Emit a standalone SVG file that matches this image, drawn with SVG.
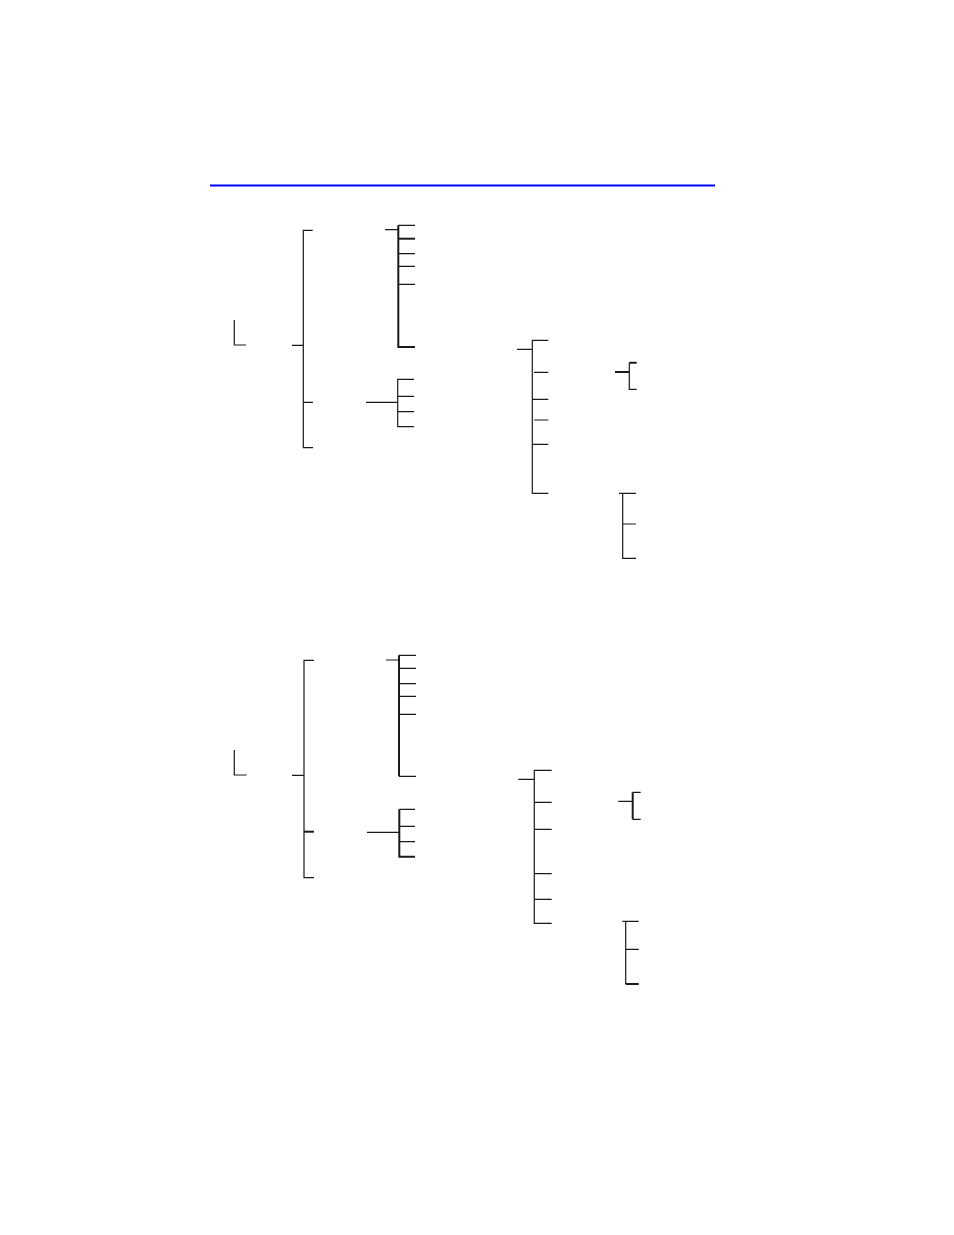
<svg xmlns="http://www.w3.org/2000/svg" width="954" height="1235" viewBox="0 0 954 1235">
<style>
.l{stroke:#1a1a1a;stroke-width:1.2;fill:none;stroke-linecap:butt}
.t{stroke:#1a1a1a;stroke-width:2;fill:none}
</style>
<rect width="954" height="1235" fill="#fff"/>
<line x1="210" y1="185.5" x2="715" y2="185.5" stroke="#0000ff" stroke-width="2"/>
<g id="connectors">
<g id="tree1">
<path class="l" d="M234.3 320V345H246"/>
<path class="l" d="M312.7 230.3H303.3V447.7H313M303.3 402.3H313M292 345.3H303.3"/>
<path class="t" d="M398.3 225.3V347H415"/>
<path class="l" d="M385 229.7H398.3M398.3 225.3H415M398.3 253.7H415M398.3 266.3H415M398.3 284.3H415"/>
<path class="t" d="M398.3 238.7H415"/>
<path class="l" d="M414 379.3H397.7V426.7H414M397.7 396.3H414M397.7 411.7H414M366 402.3H397.7"/>
<path class="l" d="M548.3 340.3H532.3V493.3H548.3M517 349.3H532.3M534 372.3H548.3M532.3 399.3H548.3M534 420H548.3M532.3 444.3H548.3"/>
<path class="l" d="M636.7 389.3H629.3V362.7"/>
<path class="t" d="M629.3 362.7H636.7M615 372H629.3"/>
<path class="l" d="M619 493.3H636M622.7 493.3V558.3H636M622.7 524H636"/>
</g>
<g id="tree2">
<path class="l" d="M234.3 750V775H246.7"/>
<path class="l" d="M314 660.3H304V877.7H314M292 775.3H304"/>
<path class="t" d="M304 831.7H314"/>
<path class="t" d="M399 655.3V776.3"/>
<path class="l" d="M386 660H399M399 655.3H416M399 668.3H416M399 683.7H416M399 696.3H416M399 714.3H416M399 776.3H416"/>
<path class="t" d="M399.3 809.3V856.7H415"/>
<path class="l" d="M399.3 809.3H415M399.3 826.3H415M399.3 841.7H415M367 832.3H399.3"/>
<path class="l" d="M551.7 770.3H534.3V923.3H551.7M518.3 779.3H534.3M534.3 802.3H551.7M534.3 829.3H551.7M534.3 873.7H551.7M534.3 899.3H551.7"/>
<path class="t" d="M632.7 792.3V819.3"/>
<path class="l" d="M632.7 792.3H640.7M632.7 819.3H640.7M618.3 801.3H632.7"/>
<path class="l" d="M622.3 921.3H638.7M625.7 921.3V984M625.7 949.3H638.7"/>
<path class="t" d="M625.7 984H638.7"/>
</g>
</g>
</svg>
